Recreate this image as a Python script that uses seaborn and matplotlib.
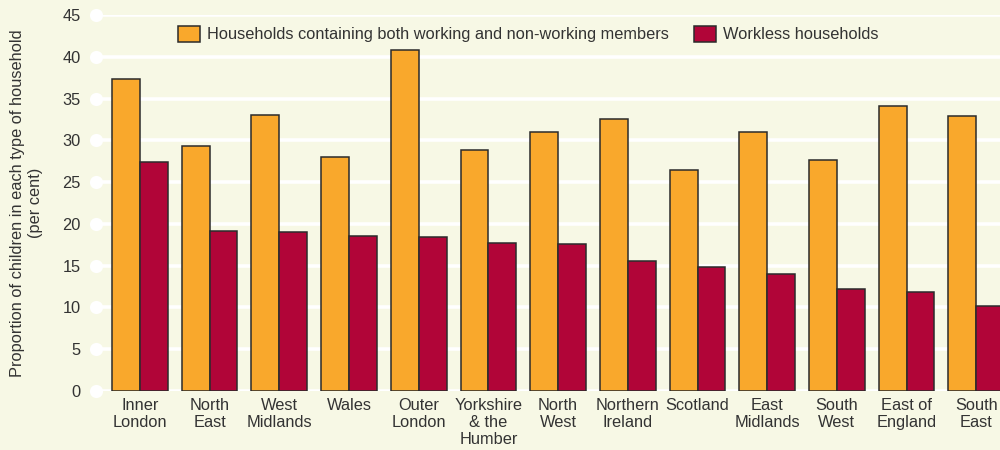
import matplotlib
matplotlib.use("Agg")
import matplotlib.pyplot as plt
import seaborn as sns
import pandas as pd

regions = ["Inner\nLondon", "North\nEast", "West\nMidlands", "Wales", "Outer\nLondon",
           "Yorkshire\n& the\nHumber", "North\nWest", "Northern\nIreland", "Scotland",
           "East\nMidlands", "South\nWest", "East of\nEngland", "South\nEast"]
mixed = [37.3, 29.3, 33.0, 28.0, 40.8, 28.8, 31.0, 32.6, 26.4, 31.0, 27.6, 34.1, 32.9]
workless = [27.4, 19.1, 19.0, 18.5, 18.4, 17.7, 17.6, 15.6, 14.9, 14.0, 12.2, 11.8, 10.2]
series_names = ["Households containing both working and non-working members",
                "Workless households"]
yticks = [0, 5, 10, 15, 20, 25, 30, 35, 40, 45]

df = pd.DataFrame({
    "region": regions * 2,
    "value": mixed + workless,
    "series": [series_names[0]] * len(regions) + [series_names[1]] * len(regions),
})

bg = "#f7f8e5"
text_c = "#333333"
fs = 11.8
sns.set_theme(style="white")
plt.rcParams["font.family"] = ["Liberation Sans", "DejaVu Sans"]

fig = plt.figure(figsize=(10, 4.5), dpi=100, facecolor=bg)
ax = fig.add_axes([0.096, 0.1311, 0.904, 0.8356])
ax.set_facecolor(bg)

sns.barplot(data=df, x="region", y="value", hue="series", hue_order=series_names,
            palette=["#f9a82c", "#b10538"], width=0.8, gap=0, saturation=1,
            edgecolor="#2b2b2b", linewidth=1.1, ax=ax, zorder=3)

ax.set_ylim(0, 45)
ax.set_xlim(-0.63, 12.34)
ax.set_yticks(yticks)
ax.set_yticklabels([str(t) for t in yticks], fontsize=fs, color=text_c)
for t in yticks:
    ax.axhline(t, color="white", lw=2.6, zorder=1, solid_capstyle="round")
ax.scatter([0] * len(yticks), yticks, transform=ax.get_yaxis_transform(), s=90,
           color="white", zorder=2, clip_on=False, linewidths=0)
ax.tick_params(axis="y", length=0, pad=11)
ax.tick_params(axis="x", length=0, pad=5)
for lbl in ax.get_xticklabels():
    lbl.set_fontsize(fs)
    lbl.set_color(text_c)
    lbl.set_linespacing(1.15)
    lbl.set_va("top")
for s in ax.spines.values():
    s.set_visible(False)
ax.set_xlabel("")
ax.set_ylabel("Proportion of children in each type of household\n(per cent)",
              fontsize=fs, color=text_c, labelpad=14, linespacing=1.25)

handles, labels = ax.get_legend_handles_labels()
ax.legend(handles, labels, ncol=2, frameon=False, loc="center",
          bbox_to_anchor=(0.478, 0.949), fontsize=fs, handlelength=1.35,
          handleheight=1.1, handletextpad=0.45, columnspacing=1.5, labelcolor=text_c)

fig.savefig("out.png", dpi=100, facecolor=bg)
